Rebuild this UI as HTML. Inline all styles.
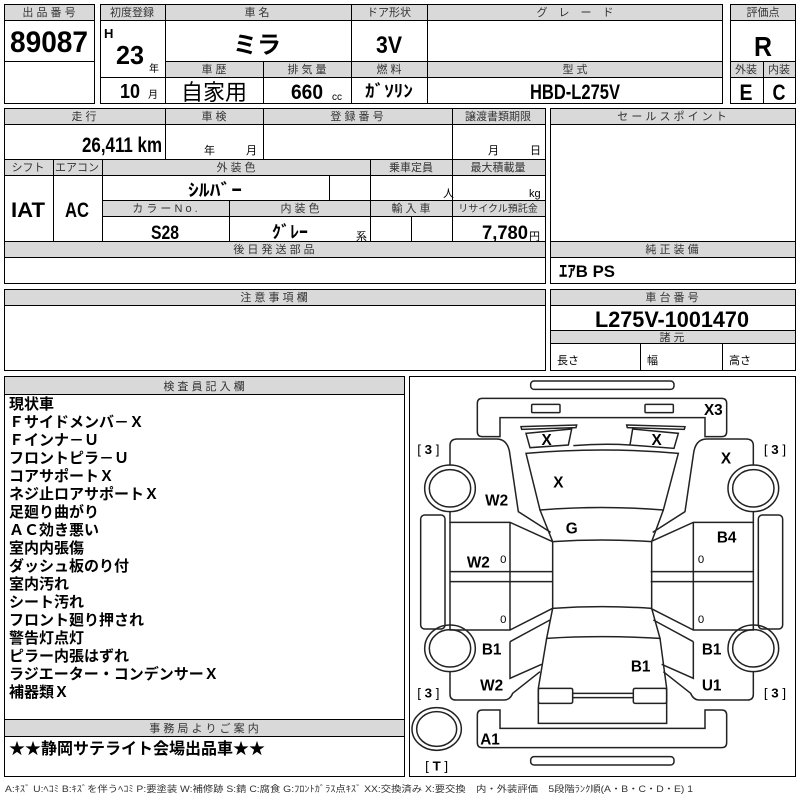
<!DOCTYPE html>
<html><head><meta charset="utf-8"><style>
html,body{margin:0;padding:0;background:#fff;}
svg{display:block;}
text{font-family:"Liberation Sans","Noto Sans CJK JP",sans-serif;}
.h{font-size:11px;fill:#333;text-anchor:middle;}
.b{font-weight:bold;fill:#000;}
.c{text-anchor:middle;}
.l{font-size:15px;font-weight:bold;}
</style></head><body>
<svg width="800" height="800" viewBox="0 0 800 800" xmlns="http://www.w3.org/2000/svg">
<g fill="#d9d9d9" stroke="none">
<rect x="4" y="4" width="90" height="16"/>
<rect x="100" y="4" width="622" height="16"/>
<rect x="165" y="61" width="557" height="16"/>
<rect x="730" y="4" width="65" height="16"/>
<rect x="730" y="61" width="65" height="16"/>
<rect x="4" y="108" width="541" height="16"/>
<rect x="4" y="159" width="541" height="16"/>
<rect x="102" y="200" width="443" height="16"/>
<rect x="4" y="241" width="541" height="16"/>
<rect x="550" y="108" width="245" height="16"/>
<rect x="550" y="241" width="245" height="16"/>
<rect x="4" y="289" width="541" height="16"/>
<rect x="550" y="289" width="245" height="16"/>
<rect x="550" y="330" width="245" height="13"/>
<rect x="4" y="376" width="400" height="18"/>
<rect x="4" y="719" width="400" height="17"/>
</g>
<g fill="none" stroke="#000" stroke-width="1" shape-rendering="crispEdges">
<rect x="4.5" y="4.5" width="90" height="99"/>
<path d="M4 20.5H94M4 61.5H94"/>
<rect x="100.5" y="4.5" width="622" height="99"/>
<path d="M100 20.5H722M165 61.5H722M100 77.5H722M165.5 4V103M351.5 4V103M427.5 4V103M263.5 61V103"/>
<rect x="730.5" y="4.5" width="65" height="99"/>
<path d="M730 20.5H795M730 61.5H795M730 77.5H795M763.5 61V103"/>
<rect x="4.5" y="108.5" width="541" height="175"/>
<path d="M4 124.5H545M4 159.5H545M4 175.5H545M102 200.5H545M102 216.5H545M4 241.5H545M4 257.5H545"/>
<path d="M165.5 108V159M263.5 108V159M452.5 108V159M53.5 159V241M102.5 159V241M370.5 159V241M452.5 159V241M329.5 175V200M229.5 200V241M411.5 216V241"/>
<rect x="550.5" y="108.5" width="245" height="175"/>
<path d="M550 124.5H795M550 241.5H795M550 257.5H795"/>
<rect x="4.5" y="289.5" width="541" height="81"/>
<path d="M4 305.5H545"/>
<rect x="550.5" y="289.5" width="245" height="81"/>
<path d="M550 305.5H795M550 330.5H795M550 343.5H795M640.5 343V370M722.5 343V370"/>
<rect x="4.5" y="376.5" width="400" height="400"/>
<path d="M4 394.5H404M4 719.5H404M4 736.5H404"/>
<rect x="409.5" y="376.5" width="386" height="400"/>
</g>
<g class="h">
<text x="49" y="16">出 品 番 号</text>
<text x="132" y="16">初度登録</text>
<text x="257" y="16">車 名</text>
<text x="389" y="16">ドア形状</text>
<text x="575" y="16">グ　レ　ー　ド</text>
<text x="763" y="16">評価点</text>
<text x="214" y="73">車 歴</text>
<text x="307" y="73">排 気 量</text>
<text x="389" y="73">燃 料</text>
<text x="575" y="73">型 式</text>
<text x="746" y="73">外装</text>
<text x="779" y="73">内装</text>
<text x="84" y="120">走 行</text>
<text x="214" y="120">車 検</text>
<text x="357" y="120">登 録 番 号</text>
<text x="498" y="120">譲渡書類期限</text>
<text x="672" y="120">セ ー ル ス ポ イ ン ト</text>
<text x="28" y="171">シフト</text>
<text x="77" y="171">エアコン</text>
<text x="236" y="171">外 装 色</text>
<text x="411" y="171">乗車定員</text>
<text x="498" y="171">最大積載量</text>
<text x="165" y="212">カ ラ ー N o .</text>
<text x="300" y="212">内 装 色</text>
<text x="411" y="212">輸 入 車</text>
<text x="498" y="212" font-size="10">リサイクル預託金</text>
<text x="274" y="253">後 日 発 送 部 品</text>
<text x="672" y="253">純 正 装 備</text>
<text x="274" y="301">注 意 事 項 欄</text>
<text x="672" y="301">車 台 番 号</text>
<text x="672" y="341">諸 元</text>
<text x="204" y="390">検 査 員 記 入 欄</text>
<text x="204" y="732">事 務 局 よ り ご 案 内</text>
</g>
<g class="b">
<text x="49" y="52" class="c" font-size="30" textLength="78" lengthAdjust="spacingAndGlyphs">89087</text>
<text x="104" y="38" font-size="13">H</text>
<text x="116" y="64" font-size="26" textLength="28" lengthAdjust="spacingAndGlyphs">23</text>
<text x="149" y="72" font-size="10" font-weight="normal">年</text>
<text x="120" y="98" font-size="20" textLength="20" lengthAdjust="spacingAndGlyphs">10</text>
<text x="148" y="98" font-size="10" font-weight="normal">月</text>
<text x="257" y="53" class="c" font-size="24">ミラ</text>
<text x="389" y="53" class="c" font-size="24" textLength="26" lengthAdjust="spacingAndGlyphs">3V</text>
<text x="763" y="56" class="c" font-size="28" textLength="18" lengthAdjust="spacingAndGlyphs">R</text>
<text x="214" y="100" class="c" font-size="22" font-weight="normal">自家用</text>
<text x="307" y="99" class="c" font-size="21" textLength="32" lengthAdjust="spacingAndGlyphs">660</text>
<text x="332" y="100" font-size="10" font-weight="normal">cc</text>
<text x="389" y="97" class="c" font-size="17" textLength="48" lengthAdjust="spacingAndGlyphs">ｶﾞｿﾘﾝ</text>
<text x="575" y="99" class="c" font-size="21" textLength="90" lengthAdjust="spacingAndGlyphs">HBD-L275V</text>
<text x="746" y="100" class="c" font-size="22" textLength="13" lengthAdjust="spacingAndGlyphs">E</text>
<text x="779" y="100" class="c" font-size="22" textLength="13" lengthAdjust="spacingAndGlyphs">C</text>
<text x="82" y="152" font-size="21" textLength="80" lengthAdjust="spacingAndGlyphs">26,411 km</text>
<text x="204" y="154" font-size="11" font-weight="normal">年</text>
<text x="246" y="154" font-size="11" font-weight="normal">月</text>
<text x="488" y="154" font-size="11" font-weight="normal">月</text>
<text x="530" y="154" font-size="11" font-weight="normal">日</text>
<text x="28" y="217" class="c" font-size="21" textLength="34" lengthAdjust="spacingAndGlyphs">IAT</text>
<text x="77" y="217" class="c" font-size="21" textLength="24" lengthAdjust="spacingAndGlyphs">AC</text>
<text x="215" y="196" class="c" font-size="17" textLength="54" lengthAdjust="spacingAndGlyphs">ｼﾙﾊﾞｰ</text>
<text x="443" y="197" font-size="11" font-weight="normal">人</text>
<text x="529" y="197" font-size="11" font-weight="normal">kg</text>
<text x="165" y="239" class="c" font-size="19" textLength="28" lengthAdjust="spacingAndGlyphs">S28</text>
<text x="290" y="238" class="c" font-size="17" textLength="36" lengthAdjust="spacingAndGlyphs">ｸﾞﾚｰ</text>
<text x="356" y="240" font-size="11" font-weight="normal">系</text>
<text x="482" y="239" font-size="19" textLength="46" lengthAdjust="spacingAndGlyphs">7,780</text>
<text x="529" y="240" font-size="11" font-weight="normal">円</text>
<text x="559" y="277" font-size="17" textLength="56" lengthAdjust="spacingAndGlyphs">ｴｱB PS</text>
<text x="672" y="327" class="c" font-size="22" textLength="154" lengthAdjust="spacingAndGlyphs">L275V-1001470</text>
<text x="557" y="364" font-size="11" font-weight="normal">長さ</text>
<text x="647" y="364" font-size="11" font-weight="normal">幅</text>
<text x="729" y="364" font-size="11" font-weight="normal">高さ</text>
</g>
<g class="l">
<text x="9" y="409">現状車</text>
<text x="9" y="427">Ｆサイドメンバ－Ｘ</text>
<text x="9" y="445">Ｆインナ－Ｕ</text>
<text x="9" y="463">フロントピラ－Ｕ</text>
<text x="9" y="481">コアサポートＸ</text>
<text x="9" y="499">ネジ止ロアサポートＸ</text>
<text x="9" y="517">足廻り曲がり</text>
<text x="9" y="535">ＡＣ効き悪い</text>
<text x="9" y="553">室内内張傷</text>
<text x="9" y="571">ダッシュ板のり付</text>
<text x="9" y="589">室内汚れ</text>
<text x="9" y="607">シート汚れ</text>
<text x="9" y="625">フロント廻り押され</text>
<text x="9" y="643">警告灯点灯</text>
<text x="9" y="661">ピラー内張はずれ</text>
<text x="9" y="679">ラジエーター・コンデンサーＸ</text>
<text x="9" y="697">補器類Ｘ</text>
<text x="9" y="754" font-size="16">★★静岡サテライト会場出品車★★</text>
</g>
<text x="5" y="792" font-size="9" fill="#333" textLength="688" lengthAdjust="spacingAndGlyphs">A:ｷｽﾞ U:ﾍｺﾐ B:ｷｽﾞを伴うﾍｺﾐ P:要塗装 W:補修跡 S:錆 C:腐食 G:ﾌﾛﾝﾄｶﾞﾗｽ点ｷｽﾞ XX:交換済み X:要交換　内・外装評価　5段階ﾗﾝｸ順(A・B・C・D・E) 1</text>
<g transform="translate(400,375) scale(0.33333)">
<defs>
<g id="side" fill="none" stroke="#222" stroke-width="4.5">
<path d="M150,272 V212 Q150,192 172,192 H290 Q325,192 330,240 L355,410 L452,472"/>
<path d="M150,410 V442 H330 L458,500"/>
<path d="M150,765 V745 M150,442 V765 H330 L458,700"/>
<path d="M150,590 H458 M150,620 H458 M330,442 V765"/>
<rect x="62" y="420" width="73" height="342" rx="12"/>
<ellipse cx="150" cy="340" rx="76" ry="70"/>
<ellipse cx="150" cy="340" rx="62" ry="56"/>
<ellipse cx="150" cy="820" rx="76" ry="70"/>
<ellipse cx="150" cy="820" rx="62" ry="56"/>
<path d="M150,890 V958 Q150,975 168,975 H312 Q330,975 338,955 L420,890"/>
<path d="M330,800 L450,735 M330,800 V910 L425,868"/>
</g>
</defs>
<use href="#side"/>
<use href="#side" transform="translate(1210,0) scale(-1,1)"/>
<g fill="none" stroke="#222" stroke-width="4.5">
<rect x="392" y="18" width="430" height="25" rx="10"/>
<path d="M232,85 Q232,70 247,70 H965 Q980,70 980,85 V170 Q980,185 965,185 H915 V128 H300 V185 H247 Q232,185 232,170 Z"/>
<rect x="395" y="88" width="85" height="25" rx="3"/>
<rect x="735" y="88" width="85" height="25" rx="3"/>
<path d="M363,155 L530,150 L528,158 L365,163 Z"/>
<path d="M378,175 L515,162 L505,210 L390,218 Z"/>
<path d="M680,150 L855,155 L853,163 L682,158 Z"/>
<path d="M698,162 L835,175 L822,220 L690,210 Z"/>
<path d="M520,212 Q605,205 690,210"/>
<path d="M378,235 Q605,215 835,235 L790,405 Q605,390 420,405 Z"/>
<path d="M420,405 L458,500 Q605,490 755,500 L790,405"/>
<path d="M458,500 V700 Q605,690 755,700 V500"/>
<path d="M458,700 L440,790 Q605,780 780,790 L755,700"/>
<path d="M440,790 L415,940 V1045 H800 V940 L780,790"/>
<rect x="415" y="940" width="103" height="45" rx="5"/>
<rect x="700" y="940" width="100" height="45" rx="5"/>
<path d="M518,955 H700 M518,968 H700"/>
<path d="M232,1020 Q232,1005 247,1005 H300 V1060 H915 V1005 H965 Q980,1005 980,1020 V1103 Q980,1118 965,1118 H247 Q232,1118 232,1103 Z"/>
<rect x="392" y="1145" width="430" height="25" rx="10"/>
<ellipse cx="110" cy="1062" rx="74" ry="64"/>
<ellipse cx="110" cy="1062" rx="60" ry="52"/>
</g>
<g font-weight="bold" font-size="46" fill="#000" text-anchor="middle">
<text x="940" y="120">X3</text>
<text x="440" y="210">X</text>
<text x="770" y="210">X</text>
<text x="978" y="265">X</text>
<text x="475" y="337">X</text>
<text x="290" y="392">W2</text>
<text x="515" y="475">G</text>
<text x="980" y="502">B4</text>
<text x="235" y="577">W2</text>
<text x="275" y="839">B1</text>
<text x="935" y="839">B1</text>
<text x="722" y="890">B1</text>
<text x="275" y="947">W2</text>
<text x="935" y="947">U1</text>
<text x="270" y="1109">A1</text>
</g>
<g font-size="40" fill="#000" text-anchor="middle" font-weight="normal">
<text x="310" y="564" font-size="34">0</text>
<text x="310" y="744" font-size="34">0</text>
<text x="903" y="564" font-size="34">0</text>
<text x="903" y="744" font-size="34">0</text>
<text x="85" y="237">[ <tspan font-weight="bold">3</tspan> ]</text>
<text x="1125" y="237">[ <tspan font-weight="bold">3</tspan> ]</text>
<text x="85" y="967">[ <tspan font-weight="bold">3</tspan> ]</text>
<text x="1125" y="967">[ <tspan font-weight="bold">3</tspan> ]</text>
<text x="110" y="1187">[ <tspan font-weight="bold">T</tspan> ]</text>
</g>
</g>
</svg>
</body></html>
